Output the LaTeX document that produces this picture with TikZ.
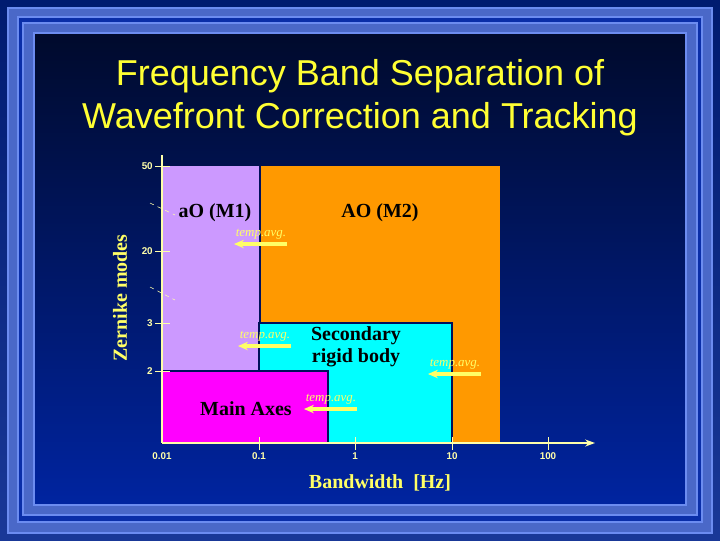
\documentclass[tikz,border=0pt]{standalone}
\usepackage{fontspec}
\setmainfont{Liberation Serif}
\newfontfamily\arialfont{Liberation Sans}
\usetikzlibrary{arrows.meta,positioning}
\definecolor{deepblue}{RGB}{0,34,140}
\definecolor{framelight}{RGB}{108,140,240}
\definecolor{framemid}{RGB}{74,104,200}
\definecolor{framegap}{RGB}{10,46,168}
\definecolor{navytop}{RGB}{0,10,44}
\definecolor{navybot}{RGB}{0,36,160}
\definecolor{titleyellow}{RGB}{255,255,51}
\definecolor{labelyellow}{RGB}{255,255,102}
\definecolor{axisyellow}{RGB}{255,255,170}
\definecolor{lavender}{RGB}{204,153,255}
\definecolor{aoorange}{RGB}{255,153,0}
\definecolor{rigidcyan}{RGB}{0,255,255}
\definecolor{axesmagenta}{RGB}{255,0,255}
\definecolor{edgenavy}{RGB}{0,16,90}

\begin{document}
\begin{tikzpicture}[x=0.025cm,y=-0.025cm,
    bandname/.style={font=\fontsize{14.2}{16}\selectfont\bfseries,text=black,inner sep=0pt,align=center},
    axname/.style={font=\fontsize{14.2}{16}\selectfont\bfseries,text=labelyellow,inner sep=0pt},
    ticklab/.style={font=\arialfont\fontsize{7}{8}\selectfont\bfseries,text=axisyellow,inner sep=0pt},
    avgtext/.style={font=\fontsize{9.2}{10}\selectfont\itshape,text=labelyellow,inner sep=0pt},
    avgarrow/.style={labelyellow,line width=2.2pt,-{Stealth[length=7pt,width=6pt]}},
    region/.style={draw=edgenavy,line width=1.4pt}]
  \useasboundingbox (0,0) rectangle (720,540);
  % background and frame
  \shade[top color=deepblue!80!black,bottom color=deepblue!90!white] (0,0) rectangle (720,540);
  \draw[framelight,line width=1.4pt,fill=framemid] (8,8) rectangle (712,533);
  \draw[framelight,line width=1.4pt,fill=framegap] (18,17) rectangle (702,522);
  \draw[framelight,line width=1.4pt,fill=framemid] (23,23) rectangle (697,515);
  \shade[top color=navytop,bottom color=navybot] (34,33) rectangle (686,505);
  \draw[framelight,line width=1.4pt] (34,33) rectangle (686,505);
  % title
  \node[font=\arialfont\fontsize{25.6}{30.6}\selectfont,text=titleyellow,align=center] (title) at (360,98)
    {Frequency Band Separation of\\Wavefront Correction and Tracking};
  % bands
  \fill[lavender] (162,166) rectangle (260,371);
  \fill[aoorange] (260,166) rectangle (500,443);
  \draw[edgenavy,line width=1.6pt] (260,166) -- (260,323);
  \draw[region,fill=rigidcyan] (259,323) rectangle (452,443);
  \draw[region,fill=axesmagenta] (162,371) rectangle (328,443);
  % axes
  \coordinate (origin) at (162,443);
  \coordinate (ytop) at (162,155);
  \coordinate (xend) at (595,443);
  \draw[axisyellow,line width=1.2pt] (origin) -- (ytop);
  \draw[axisyellow,line width=1.2pt,-{Stealth[length=7pt,width=5pt]}] (origin) -- (xend);
  \foreach \x/\lab/\nm in {162/0.01/a,259/0.1/b,355/1/c,452/10/d,548/100/e}{
    \ifnum\x>162 \draw[axisyellow,line width=0.6pt] (\x,437) -- (\x,450);\fi
    \node[ticklab] (xt\nm) at (\x,456) {\lab};
  }
  \foreach \y/\lab/\nm in {166/50/a,251/20/b,323/3/c,371/2/d}{
    \draw[axisyellow,line width=0.6pt] (155,\y) -- (170,\y);
    \node[ticklab,anchor=east] (yt\nm) at (153,\y) {\lab};
  }
  \draw[axisyellow,line width=0.4pt,dashed] (150,203) -- (175,215);
  \draw[axisyellow,line width=0.4pt,dashed] (150,287) -- (175,300);
  \node[axname,rotate=90] (ylabel) at (120,298) {Zernike modes};
  \node[axname] (xlabel) at (380,483) {Bandwidth\ \ [Hz]};
  % band labels
  \node[bandname] (m1) at (215,213) {aO (M1)};
  \node[bandname] (m2) at (380,213) {AO (M2)};
  \node[bandname] (secondary) at (356,347) {Secondary\\rigid body};
  \node[bandname] (mainaxes) at (246,409) {Main Axes};
  % temporal averaging
  \foreach \tx/\ty/\nm in {261/234/a,265/336/b,455/364/c,331/399/d}{
    \node[avgtext] (avg\nm) at (\tx,\ty) {temp.avg.};
    \coordinate (avg\nm s) at (\tx+26,\ty+10);
    \coordinate (avg\nm e) at (\tx-27,\ty+10);
    \draw[avgarrow] (avg\nm s) -- (avg\nm e);
  }
\end{tikzpicture}
\end{document}
